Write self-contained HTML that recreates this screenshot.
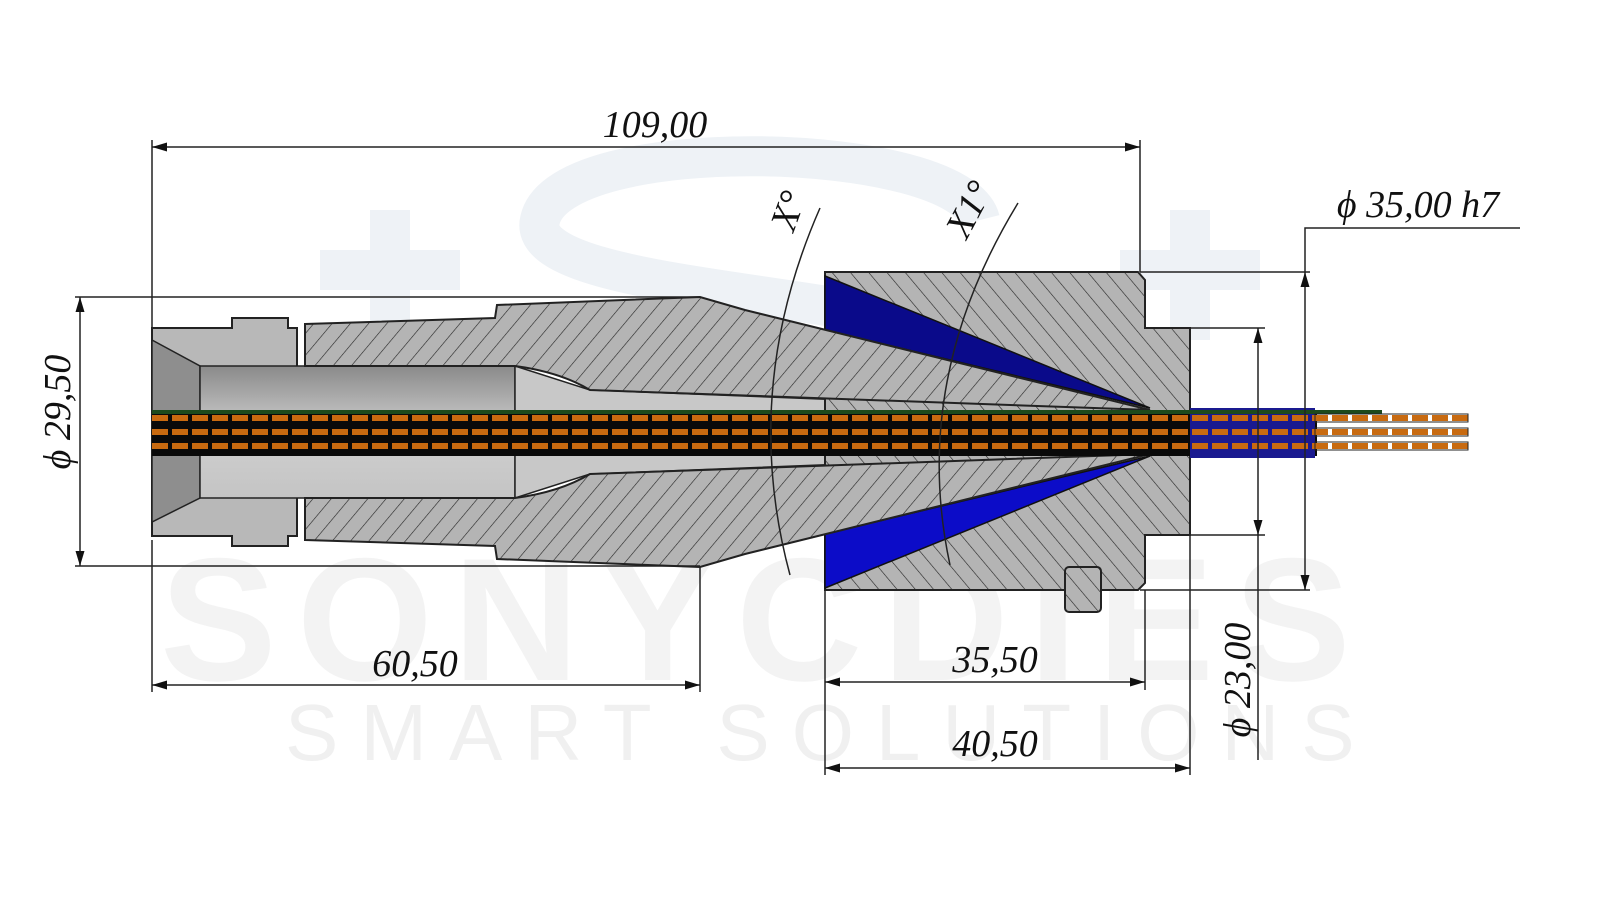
<!DOCTYPE html>
<html><head><meta charset="utf-8"><style>
html,body{margin:0;padding:0;background:#fff;width:1600px;height:900px;overflow:hidden}
svg{display:block}
.dim{font-family:"Liberation Serif",serif;font-style:italic;font-size:38px;fill:#111}
</style></head><body>
<svg width="1600" height="900" viewBox="0 0 1600 900" xmlns="http://www.w3.org/2000/svg">
<defs>
<pattern id="h1" width="14" height="14" patternUnits="userSpaceOnUse" patternTransform="rotate(40)">
<rect width="14" height="14" fill="#b4b4b4"/><line x1="0" y1="0" x2="0" y2="14" stroke="#222" stroke-width="1.2"/></pattern>
<pattern id="h2" width="14" height="14" patternUnits="userSpaceOnUse" patternTransform="rotate(-40)">
<rect width="14" height="14" fill="#b4b4b4"/><line x1="0" y1="0" x2="0" y2="14" stroke="#222" stroke-width="1.2"/></pattern>
<linearGradient id="bore" x1="0" y1="0" x2="0" y2="1"><stop offset="0" stop-color="#8a8a8a"/><stop offset="0.5" stop-color="#d0d0d0"/><stop offset="1" stop-color="#c4c4c4"/></linearGradient>
<marker id="ar" markerWidth="10" markerHeight="6" refX="10" refY="3" orient="auto-start-reverse"><path d="M0,0 L10,3 L0,6z" fill="#111"/></marker>
</defs>
<!-- watermark -->
<g fill="none" stroke="#eef2f6" stroke-width="40">
<path d="M320 270 H460 M390 210 V340"/><path d="M1120 270 H1260 M1190 210 V340"/>
<path d="M980 220 C960 140 560 130 540 220 C520 300 960 290 980 360"/>
</g>
<text x="160" y="680" font-family="Liberation Sans,sans-serif" font-size="175" font-weight="bold" fill="#f3f3f3" letter-spacing="20">SONYCDIES</text>
<text x="285" y="760" font-family="Liberation Sans,sans-serif" font-size="80" fill="#f0f0f0" letter-spacing="22">SMART SOLUTIONS</text>

<!-- collet -->
<path d="M152 328 H232 V318 H288 V328 H297 V536 H288 V546 H232 V536 H152 Z" fill="#b8b8b8" stroke="#222" stroke-width="2"/>
<path d="M152 340 L200 366 V498 L152 522 Z" fill="#8e8e8e" stroke="#222" stroke-width="1.5"/>
<rect x="200" y="366" width="315" height="132" fill="url(#bore)" stroke="#222" stroke-width="1.5"/>
<path d="M515 366 L590 390 L1150 412 V452 L590 474 L515 498 Z" fill="#c8c8c8" stroke="#222" stroke-width="1.5"/>
<!-- die block -->
<path d="M825 272 H1138 L1145 280 V328 H1190 V535 H1145 V583 L1138 590 H825 Z" fill="url(#h2)" stroke="#222" stroke-width="2"/>
<path d="M825 276 L1150 408 L825 330 Z" fill="#0a0a8a" stroke="#111" stroke-width="1.5"/>
<path d="M825 588 L1150 456 L825 534 Z" fill="#0c0cc8" stroke="#111" stroke-width="1.5"/>
<!-- sleeve hatched -->
<path d="M305 324 L495 318 L497 305 L700 297 L745 310 L1150 410 L590 390 Q560 372 515 366 L305 366 Z" fill="url(#h1)" stroke="#222" stroke-width="2"/>
<path d="M305 540 L495 546 L497 559 L700 567 L745 554 L1150 454 L590 474 Q560 492 515 498 L305 498 Z" fill="url(#h1)" stroke="#222" stroke-width="2"/>
<path d="M1150 410 L1190 412 V452 L1150 454 Z" fill="#111"/>
<rect x="1065" y="567" width="36" height="45" rx="4" fill="url(#h2)" stroke="#222" stroke-width="2"/>
<!-- cable -->
<rect x="152" y="410" width="1165" height="46" fill="#0a0a0a"/>
<rect x="1190" y="408" width="125" height="50" fill="#1a1a90"/>
<rect x="152" y="410" width="1230" height="4" fill="#1c4a1c"/>
<g stroke="#c86a10" stroke-width="6" stroke-dasharray="16 4">
<line x1="152" y1="418" x2="1468" y2="418"/><line x1="152" y1="432" x2="1468" y2="432"/><line x1="152" y1="446" x2="1468" y2="446"/>
</g>
<g stroke="#222" stroke-width="1" fill="none"><rect x="1315" y="414" width="153" height="8"/><rect x="1315" y="428" width="153" height="8"/><rect x="1315" y="442" width="153" height="8"/></g>

<!-- dimensions -->
<g stroke="#222" stroke-width="1.5" fill="none">
<line x1="152" y1="140" x2="152" y2="328"/><line x1="1140" y1="140" x2="1140" y2="272"/>
<line x1="152" y1="147" x2="1140" y2="147" marker-start="url(#ar)" marker-end="url(#ar)"/>
<line x1="75" y1="297" x2="700" y2="297"/><line x1="75" y1="566" x2="700" y2="566"/>
<line x1="80" y1="297" x2="80" y2="566" marker-start="url(#ar)" marker-end="url(#ar)"/>
<line x1="152" y1="540" x2="152" y2="692"/><line x1="700" y1="566" x2="700" y2="692"/>
<line x1="152" y1="685" x2="700" y2="685" marker-start="url(#ar)" marker-end="url(#ar)"/>
<line x1="825" y1="590" x2="825" y2="775"/><line x1="1145" y1="590" x2="1145" y2="690"/><line x1="1190" y1="535" x2="1190" y2="775"/>
<line x1="825" y1="682" x2="1145" y2="682" marker-start="url(#ar)" marker-end="url(#ar)"/>
<line x1="825" y1="768" x2="1190" y2="768" marker-start="url(#ar)" marker-end="url(#ar)"/>
<line x1="1190" y1="328" x2="1265" y2="328"/><line x1="1190" y1="535" x2="1265" y2="535"/>
<line x1="1258" y1="328" x2="1258" y2="535" marker-start="url(#ar)" marker-end="url(#ar)"/>
<line x1="1258" y1="535" x2="1258" y2="760"/>
<line x1="1140" y1="272" x2="1310" y2="272"/><line x1="1140" y1="590" x2="1310" y2="590"/>
<line x1="1305" y1="272" x2="1305" y2="590" marker-start="url(#ar)" marker-end="url(#ar)"/>
<polyline points="1305,272 1305,228 1520,228"/>
<path d="M820 208 Q740 390 790 575"/>
<path d="M1018 203 Q910 380 950 565"/>
</g>
<text class="dim" x="655" y="137" text-anchor="middle">109,00</text>
<text class="dim" x="415" y="676" text-anchor="middle">60,50</text>
<text class="dim" x="995" y="672" text-anchor="middle">35,50</text>
<text class="dim" x="995" y="756" text-anchor="middle">40,50</text>
<text class="dim" x="1418" y="217" text-anchor="middle">ϕ 35,00 h7</text>
<text class="dim" transform="translate(70,412) rotate(-90)" text-anchor="middle">ϕ 29,50</text>
<text class="dim" transform="translate(1250,680) rotate(-90)" text-anchor="middle">ϕ 23,00</text>
<text class="dim" transform="translate(800,215) rotate(-70)" text-anchor="middle">X°</text>
<text class="dim" transform="translate(980,215) rotate(-62)" text-anchor="middle">X1°</text>
</svg>
</body></html>
